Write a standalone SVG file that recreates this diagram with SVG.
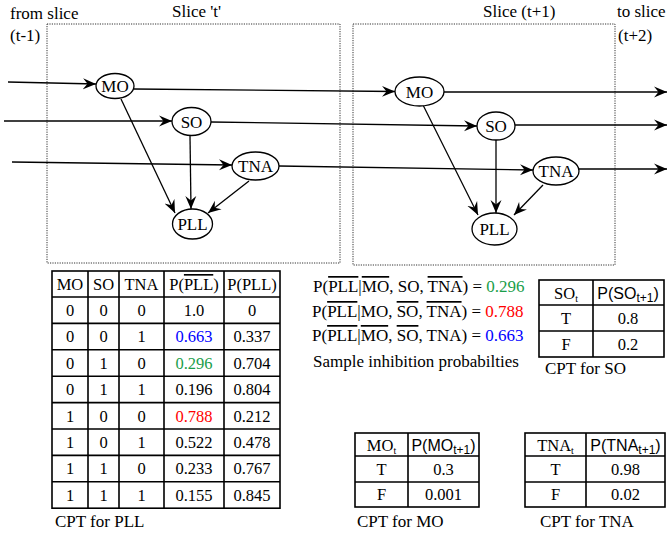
<svg xmlns="http://www.w3.org/2000/svg" width="668" height="538" viewBox="0 0 668 538" font-family="'Liberation Serif', 'DejaVu Serif', serif">
<style>
text{font-family:'Liberation Serif','DejaVu Serif',serif;font-size:17px;fill:#000}
.c{text-anchor:middle}
.t{font-size:16.5px}
.sans{font-family:'Liberation Sans','DejaVu Sans',sans-serif;font-size:16px}
.ov{text-decoration:overline}
.slice{fill:none;stroke:#333;stroke-width:1;stroke-dasharray:1.2 1.2}
.node ellipse{fill:#fff;stroke:#000;stroke-width:1.3}
.edge{stroke:#000;stroke-width:1.3;fill:none;marker-end:url(#ah)}
.grid{stroke:#000;stroke-width:1.6;fill:none}
.g{fill:#1a9e4a}.r{fill:#ff0000}.b{fill:#0000ff}
</style>
<defs>
<marker id="ah" markerUnits="userSpaceOnUse" markerWidth="14" markerHeight="12" viewBox="-13 -6 14 12" refX="0" refY="0" orient="auto">
<path d="M0,0 L-13,-5.5 L-8.5,0 L-13,5.5 z" fill="#000"/>
</marker>
</defs>
<rect width="668" height="538" fill="#fff"/>

<g id="slices">
<rect class="slice" x="47" y="24" width="293" height="239"/>
<rect class="slice" x="353" y="24" width="262" height="241"/>
<text x="10" y="19">from slice</text>
<text x="10" y="41">(t-1)</text>
<text x="172" y="17">Slice 't'</text>
<text x="483" y="17">Slice (t+1)</text>
<text x="617" y="17">to slice</text>
<text x="618" y="41">(t+2)</text>
</g>

<g id="connectors">
<line class="edge" x1="8" y1="82" x2="96" y2="84"/>
<line class="edge" x1="4" y1="121" x2="172" y2="121"/>
<line class="edge" x1="12" y1="162" x2="232" y2="165"/>
<line class="edge" x1="134" y1="89" x2="395" y2="91.5"/>
<line class="edge" x1="211" y1="122" x2="477" y2="126"/>
<line class="edge" x1="279" y1="166" x2="533" y2="170"/>
<line class="edge" x1="121" y1="99" x2="175" y2="213"/>
<line class="edge" x1="190" y1="136" x2="191" y2="209"/>
<line class="edge" x1="249" y1="181" x2="208" y2="213"/>
<line class="edge" x1="444" y1="92" x2="667" y2="92"/>
<line class="edge" x1="515" y1="125" x2="667" y2="125"/>
<line class="edge" x1="579" y1="169" x2="667" y2="169"/>
<line class="edge" x1="423" y1="105" x2="478" y2="215"/>
<line class="edge" x1="496" y1="140" x2="496" y2="213"/>
<line class="edge" x1="543" y1="185" x2="514" y2="215"/>
</g>

<g id="MO_t" class="node"><ellipse cx="115" cy="86" rx="19" ry="12.5"/><text class="c" x="115" y="92">MO</text></g>
<g id="SO_t" class="node"><ellipse cx="191.5" cy="121.5" rx="19.5" ry="14"/><text class="c" x="191.5" y="127.5">SO</text></g>
<g id="TNA_t" class="node"><ellipse cx="255.5" cy="166" rx="23.5" ry="14"/><text class="c" x="255.5" y="172">TNA</text></g>
<g id="PLL_t" class="node"><ellipse cx="192.5" cy="224" rx="20" ry="15"/><text class="c" x="192.5" y="230">PLL</text></g>

<g id="MO_t1" class="node"><ellipse cx="419.5" cy="91.5" rx="24.5" ry="14.5"/><text class="c" x="419.5" y="97.5">MO</text></g>
<g id="SO_t1" class="node"><ellipse cx="496" cy="126" rx="19" ry="14"/><text class="c" x="496" y="132">SO</text></g>
<g id="TNA_t1" class="node"><ellipse cx="556" cy="171" rx="23" ry="14"/><text class="c" x="556" y="177">TNA</text></g>
<g id="PLL_t1" class="node"><ellipse cx="494.5" cy="229" rx="22.5" ry="16"/><text class="c" x="494.5" y="235">PLL</text></g>

<g id="cpt_pll">
<rect class="grid" x="52" y="271" width="228" height="237.2"/>
<path class="grid" d="M88,271V508.2M119,271V508.2M164,271V508.2M224,271V508.2M52,297H280M52,323.4H280M52,349.8H280M52,376.2H280M52,402.6H280M52,429H280M52,455.4H280M52,481.8H280"/>
<text class="c t" x="70" y="290">MO</text><text class="c t" x="103.5" y="290">SO</text><text class="c t" x="141.5" y="290">TNA</text>
<text class="c t" x="194" y="290">P(<tspan class="ov">PLL</tspan>)</text><text class="c t" x="252" y="290">P(PLL)</text>
<text class="c t" x="70" y="316">0</text><text class="c t" x="103.5" y="316">0</text><text class="c t" x="141.5" y="316">0</text><text class="c t" x="194" y="316">1.0</text><text class="c t" x="252" y="316">0</text>
<text class="c t" x="70" y="342.4">0</text><text class="c t" x="103.5" y="342.4">0</text><text class="c t" x="141.5" y="342.4">1</text><text class="c t b" x="194" y="342.4">0.663</text><text class="c t" x="252" y="342.4">0.337</text>
<text class="c t" x="70" y="368.8">0</text><text class="c t" x="103.5" y="368.8">1</text><text class="c t" x="141.5" y="368.8">0</text><text class="c t g" x="194" y="368.8">0.296</text><text class="c t" x="252" y="368.8">0.704</text>
<text class="c t" x="70" y="395.2">0</text><text class="c t" x="103.5" y="395.2">1</text><text class="c t" x="141.5" y="395.2">1</text><text class="c t" x="194" y="395.2">0.196</text><text class="c t" x="252" y="395.2">0.804</text>
<text class="c t" x="70" y="421.6">1</text><text class="c t" x="103.5" y="421.6">0</text><text class="c t" x="141.5" y="421.6">0</text><text class="c t r" x="194" y="421.6">0.788</text><text class="c t" x="252" y="421.6">0.212</text>
<text class="c t" x="70" y="448">1</text><text class="c t" x="103.5" y="448">0</text><text class="c t" x="141.5" y="448">1</text><text class="c t" x="194" y="448">0.522</text><text class="c t" x="252" y="448">0.478</text>
<text class="c t" x="70" y="474.4">1</text><text class="c t" x="103.5" y="474.4">1</text><text class="c t" x="141.5" y="474.4">0</text><text class="c t" x="194" y="474.4">0.233</text><text class="c t" x="252" y="474.4">0.767</text>
<text class="c t" x="70" y="500.8">1</text><text class="c t" x="103.5" y="500.8">1</text><text class="c t" x="141.5" y="500.8">1</text><text class="c t" x="194" y="500.8">0.155</text><text class="c t" x="252" y="500.8">0.845</text>
<text x="55" y="527">CPT for PLL</text>
</g>

<g id="inhibition">
<text x="313" y="292">P(<tspan class="ov">PLL</tspan>|<tspan class="ov">MO</tspan>, SO, <tspan class="ov">TNA</tspan>) = <tspan class="g">0.296</tspan></text>
<text x="312" y="317">P(<tspan class="ov">PLL</tspan>|MO, <tspan class="ov">SO</tspan>, <tspan class="ov">TNA</tspan>) = <tspan class="r">0.788</tspan></text>
<text x="312" y="341">P(<tspan class="ov">PLL</tspan>|<tspan class="ov">MO</tspan>, <tspan class="ov">SO</tspan>, TNA) = <tspan class="b">0.663</tspan></text>
<text x="313" y="367">Sample inhibition probabilties</text>
</g>

<g id="cpt_so">
<rect class="grid" x="539" y="280" width="125" height="77"/>
<path class="grid" d="M593,280V357M539,305H664M539,331H664"/>
<text class="c t" x="566" y="299">SO<tspan font-size="10" dy="3">t</tspan></text>
<text class="c sans" x="628" y="299">P(SO<tspan font-size="12" dy="3">t+1</tspan><tspan dy="-3">)</tspan></text>
<text class="c t" x="566" y="324">T</text><text class="c t" x="628" y="324">0.8</text>
<text class="c t" x="566" y="350">F</text><text class="c t" x="628" y="350">0.2</text>
<text x="545" y="374">CPT for SO</text>
</g>

<g id="cpt_mo">
<rect class="grid" x="355" y="433" width="124" height="74"/>
<path class="grid" d="M408,433V507M355,456H479M355,482H479"/>
<text class="c t" x="381.5" y="451">MO<tspan font-size="10" dy="3">t</tspan></text>
<text class="c sans" x="443.5" y="451">P(MO<tspan font-size="12" dy="3">t+1</tspan><tspan dy="-3">)</tspan></text>
<text class="c t" x="381.5" y="475">T</text><text class="c t" x="443.5" y="475">0.3</text>
<text class="c t" x="381.5" y="500">F</text><text class="c t" x="443.5" y="500">0.001</text>
<text x="357" y="527">CPT for MO</text>
</g>

<g id="cpt_tna">
<rect class="grid" x="525" y="433" width="140" height="74"/>
<path class="grid" d="M586,433V507M525,456H665M525,482H665"/>
<text class="c t" x="555.5" y="451">TNA<tspan font-size="10" dy="3">t</tspan></text>
<text class="c sans" x="625.5" y="451">P(TNA<tspan font-size="12" dy="3">t+1</tspan><tspan dy="-3">)</tspan></text>
<text class="c t" x="555.5" y="475">T</text><text class="c t" x="625.5" y="475">0.98</text>
<text class="c t" x="555.5" y="500">F</text><text class="c t" x="625.5" y="500">0.02</text>
<text x="540" y="527">CPT for TNA</text>
</g>
</svg>
